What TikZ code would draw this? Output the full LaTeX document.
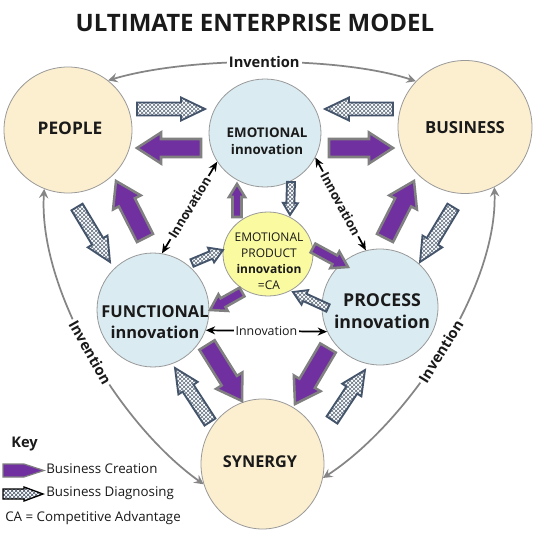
\documentclass[tikz,border=0pt]{standalone}
\usepackage{fontspec}
\setmainfont{Open Sans}
\usetikzlibrary{arrows.meta,shapes.geometric,patterns}
\definecolor{beige}{HTML}{FCEFD0}
\definecolor{lblue}{HTML}{DAEBF1}
\definecolor{lyel}{HTML}{FAFAA0}
\definecolor{purp}{HTML}{7030A0}
\definecolor{pbord}{HTML}{808080}
\definecolor{slate}{HTML}{44546A}
\definecolor{invg}{HTML}{858585}
\definecolor{ink}{HTML}{1A1A1A}
% block arrow: style, x1, y1, x2, y2, shaft half width, head half width, head length (pixel units)
\newcommand\barr[8]{%
  \pgfmathsetmacro\bang{atan2((#3)-(#5),(#4)-(#2))}%
  \pgfmathsetmacro\blen{veclen((#4)-(#2),(#5)-(#3))}%
  \pgfmathsetmacro\bneck{\blen-(#8)}%
  \begin{scope}[shift={(#2,#3)},rotate=\bang]
    \draw[#1] (0,-#6) -- (\bneck,-#6) -- (\bneck,-#7) -- (\blen,0) -- (\bneck,#7) -- (\bneck,#6) -- (0,#6) -- cycle;
  \end{scope}}
\begin{document}
\begin{tikzpicture}[x=0.75pt,y=-0.75pt,
  circ/.style={ellipse,draw=pbord!80,line width=0.6pt,inner sep=0pt},
  lab/.style={text=ink,align=center,inner sep=0pt},
  creation/.style={fill=purp,draw=pbord,line width=1.9pt,line join=miter},
  diagnosing/.style={preaction={fill=white},pattern=crosshatch,pattern color=slate!85,draw=slate,line width=1.4pt,line join=miter},
  inv/.style={draw=invg,line width=1.3pt,arrows={Stealth[length=7pt,width=7pt,inset=2.5pt]-Stealth[length=7pt,width=7pt,inset=2.5pt]}},
  invlab/.style={fill=white,text=ink,inner sep=1.5pt,font=\bfseries\fontsize{11}{13}\selectfont},
  innov/.style={draw=black,line width=1.3pt,arrows={Stealth[length=7pt,width=6pt]-Stealth[length=7pt,width=6pt]}},
  innovlab/.style={fill=white,text=ink,inner sep=1.5pt,font=\bfseries\fontsize{9.6}{11}\selectfont}]
\useasboundingbox (0,0) rectangle (536,535);
\fill[white] (0,0) rectangle (536,535);

% title
\node[lab,font=\bfseries\fontsize{18}{21}\selectfont] (title) at (255,23) {ULTIMATE ENTERPRISE MODEL};

% circles
\node[circ,fill=beige,minimum width=96pt,minimum height=94.5pt] (people) at (68,130) {};
\node[circ,fill=beige,minimum width=100.5pt,minimum height=99.75pt] (business) at (465,127) {};
\node[circ,fill=lblue,minimum width=84pt,minimum height=81pt] (emo) at (265,133) {};
\node[circ,fill=lyel,minimum width=67.5pt,minimum height=63pt] (ca) at (268,254) {};
\node[circ,fill=lblue,minimum width=84pt,minimum height=85.5pt] (func) at (153,310) {};
\node[circ,fill=lblue,minimum width=87pt,minimum height=87pt] (proc) at (380,307) {};
\node[circ,fill=beige,minimum width=92.25pt,minimum height=97.5pt] (syn) at (262.5,464) {};

% circle texts
\node[lab,font=\bfseries\fontsize{13}{15}\selectfont] (people-t) at (70,128) {PEOPLE};
\node[lab,font=\bfseries\fontsize{12.5}{15}\selectfont] (business-t) at (465,128) {BUSINESS};
\node[lab,font=\bfseries\fontsize{10}{12.75}\selectfont] (emo-t) at (267,141) {EMOTIONAL\\innovation};
\node[lab,font=\fontsize{9}{12}\selectfont] (ca-t) at (269,261) {EMOTIONAL\\PRODUCT\\\textbf{innovation}\\=CA};
\node[lab,font=\bfseries\fontsize{12.3}{15.5}\selectfont] (func-t) at (155,322) {FUNCTIONAL\\innovation};
\node[lab,font=\bfseries\fontsize{13.3}{16.5}\selectfont] (proc-t) at (382,311) {PROCESS\\innovation};
\node[lab,font=\bfseries\fontsize{12.2}{15}\selectfont] (syn-t) at (260,462) {SYNERGY};

% invention arcs
\draw[inv] (people.51) .. controls (190,56) and (340,56) .. (business.137) node[invlab,midway] (inv-top) {Invention};
\draw[inv] (people.248) .. controls (38,290) and (120,425) .. (syn.199) node[invlab,midway,sloped] (inv-left) {Invention};
\draw[inv] (syn.347) .. controls (405,425) and (498,290) .. (business.296) node[invlab,midway,sloped] (inv-right) {Invention};

% innovation arrows
\draw[innov] (emo.211) -- (func.81) node[innovlab,midway,sloped] (innov-left) {Innovation};
\draw[innov] (emo.334) -- (proc.104) node[innovlab,midway,sloped] (innov-right) {Innovation};
\draw[innov] (func.339) -- (proc.205) node[fill=white,text=ink,inner sep=1.5pt,font=\fontsize{9.3}{11}\selectfont,midway] (innov-bottom) {Innovation};

% block arrows: people <-> emotional
\barr{diagnosing}{137}{109}{205}{109}{6.5}{11.5}{24}
\barr{creation}{201}{148}{137}{148}{9}{15.5}{24}
% business <-> emotional
\barr{diagnosing}{393}{109}{325}{109}{6.5}{11.5}{24}
\barr{creation}{329}{148}{393}{148}{9}{15.5}{24}
% people <-> functional
\barr{diagnosing}{77}{207}{110}{262}{6.5}{11.5}{24}
\barr{creation}{145}{238}{116}{181}{9}{15.5}{24}
% business <-> process
\barr{diagnosing}{453}{207}{420}{262}{6.5}{11.5}{24}
\barr{creation}{385}{238}{414}{181}{9}{15.5}{24}
% CA <-> emotional
\barr{creation}{237}{217}{237}{184}{4.5}{8}{13}
\barr{diagnosing}{291}{182}{290}{215}{4}{7.5}{12}
% CA <-> process
\barr{creation}{313}{248}{348}{267}{5}{9.5}{15}
\barr{diagnosing}{328}{308}{293}{292}{4}{8}{13}
% CA <-> functional
\barr{diagnosing}{192}{263}{223}{250}{4}{8}{13}
\barr{creation}{242}{292}{210}{310}{5}{9.5}{15}
% functional/process <-> synergy
\barr{creation}{207}{345}{242}{401}{9}{15.5}{24}
\barr{creation}{328}{348}{295}{404}{9}{15.5}{24}
\barr{diagnosing}{210}{422}{175}{368}{6.5}{11.5}{24}
\barr{diagnosing}{332}{420}{365}{370}{6.5}{11.5}{24}

% key
\node[lab,anchor=west,font=\bfseries\fontsize{11}{13}\selectfont] (key) at (11,444) {Key};
\draw[fill=purp,draw=pbord,line width=0.9pt] (3,464) -- (24,464) -- (44,470.5) -- (24,477) -- (3,477) -- cycle;
\node[lab,anchor=west,font=\fontsize{10}{12}\selectfont] (key-c) at (46,469) {Business Creation};
\draw[preaction={fill=white},pattern=crosshatch,pattern color=slate,draw=black,line width=1pt] (3,489) -- (24,489) -- (24,487) -- (43,494) -- (24,501) -- (24,499) -- (3,499) -- cycle;
\node[lab,anchor=west,font=\fontsize{10}{12}\selectfont] (key-d) at (46,493) {Business Diagnosing};
\node[lab,anchor=west,font=\fontsize{10}{12}\selectfont] (key-ca) at (5,518) {CA {=} Competitive Advantage};
\end{tikzpicture}
\end{document}
